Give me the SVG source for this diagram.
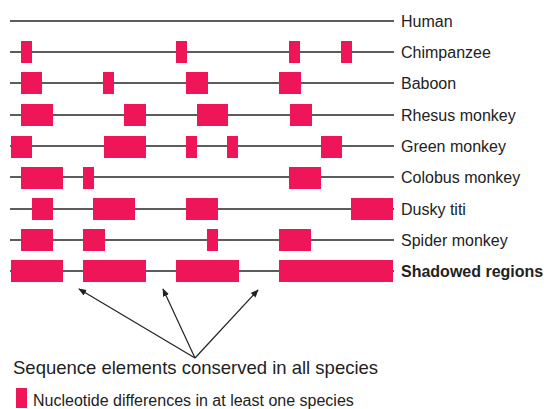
<svg xmlns="http://www.w3.org/2000/svg" width="544" height="409" viewBox="0 0 544 409">
<style>
.ln{stroke:#262626;stroke-width:1.6;fill:none}
.bx{fill:#EF1559}
.lb{font-family:"Liberation Sans",Arial,sans-serif;font-size:16px;fill:#222}
.b{font-weight:bold}
.ar{stroke:#222;stroke-width:1.2;fill:none;marker-end:url(#ah)}
</style>
<defs>
<marker id="ah" viewBox="0 0 10 10" refX="9" refY="5" markerWidth="8" markerHeight="8" markerUnits="userSpaceOnUse" orient="auto">
<path d="M0,1 L10,5 L0,9 Z" fill="#222"/>
</marker>
</defs>
<rect width="544" height="409" fill="#fff"/>
<g id="human">
<line class="ln" x1="10" y1="21" x2="394" y2="21"/>
<text class="lb" x="401" y="27">Human</text>
</g>
<g id="chimpanzee">
<line class="ln" x1="10" y1="52" x2="394" y2="52"/>
<rect class="bx" x="21" y="41" width="11" height="22"/>
<rect class="bx" x="176" y="41" width="11" height="22"/>
<rect class="bx" x="289" y="41" width="11" height="22"/>
<rect class="bx" x="341" y="41" width="11" height="22"/>
<text class="lb" x="401" y="58">Chimpanzee</text>
</g>
<g id="baboon">
<line class="ln" x1="10" y1="83" x2="394" y2="83"/>
<rect class="bx" x="21" y="72" width="21" height="22"/>
<rect class="bx" x="103" y="72" width="11" height="22"/>
<rect class="bx" x="186" y="72" width="22" height="22"/>
<rect class="bx" x="279" y="72" width="22" height="22"/>
<text class="lb" x="401" y="89">Baboon</text>
</g>
<g id="rhesus">
<line class="ln" x1="10" y1="115" x2="394" y2="115"/>
<rect class="bx" x="21" y="104" width="32" height="22"/>
<rect class="bx" x="124" y="104" width="22" height="22"/>
<rect class="bx" x="197" y="104" width="31" height="22"/>
<rect class="bx" x="290" y="104" width="22" height="22"/>
<text class="lb" x="401" y="121">Rhesus monkey</text>
</g>
<g id="green">
<line class="ln" x1="10" y1="146" x2="394" y2="146"/>
<rect class="bx" x="11" y="136" width="21" height="22"/>
<rect class="bx" x="104" y="136" width="42" height="22"/>
<rect class="bx" x="186" y="136" width="11" height="22"/>
<rect class="bx" x="227" y="136" width="11" height="22"/>
<rect class="bx" x="321" y="136" width="21" height="22"/>
<text class="lb" x="401" y="152">Green monkey</text>
</g>
<g id="colobus">
<line class="ln" x1="10" y1="177" x2="394" y2="177"/>
<rect class="bx" x="21" y="167" width="42" height="22"/>
<rect class="bx" x="83" y="167" width="11" height="22"/>
<rect class="bx" x="289" y="167" width="32" height="22"/>
<text class="lb" x="401" y="183">Colobus monkey</text>
</g>
<g id="dusky">
<line class="ln" x1="10" y1="209" x2="394" y2="209"/>
<rect class="bx" x="32" y="198" width="21" height="22"/>
<rect class="bx" x="93" y="198" width="42" height="22"/>
<rect class="bx" x="186" y="198" width="32" height="22"/>
<rect class="bx" x="351" y="198" width="42" height="22"/>
<text class="lb" x="401" y="215">Dusky titi</text>
</g>
<g id="spider">
<line class="ln" x1="10" y1="240" x2="394" y2="240"/>
<rect class="bx" x="21" y="229" width="32" height="22"/>
<rect class="bx" x="83" y="229" width="22" height="22"/>
<rect class="bx" x="207" y="229" width="11" height="22"/>
<rect class="bx" x="279" y="229" width="32" height="22"/>
<text class="lb" x="401" y="246">Spider monkey</text>
</g>
<g id="shadowed">
<line class="ln" x1="10" y1="271" x2="394" y2="271"/>
<rect class="bx" x="11" y="260" width="52" height="22"/>
<rect class="bx" x="83" y="260" width="63" height="22"/>
<rect class="bx" x="176" y="260" width="63" height="22"/>
<rect class="bx" x="279" y="260" width="114" height="22"/>
<text class="lb b" x="401" y="277">Shadowed regions</text>
</g>
<g id="connectors">
<line class="ar" x1="195" y1="358" x2="79" y2="289"/>
<line class="ar" x1="195" y1="358" x2="163" y2="289"/>
<line class="ar" x1="195" y1="358" x2="258" y2="290"/>
</g>
<g id="caption">
<text class="lb" x="13" y="374" style="font-size:18.5px">Sequence elements conserved in all species</text>
</g>
<g id="legend">
<rect class="bx" x="16" y="388" width="11" height="20"/>
<text class="lb" x="33" y="405.5">Nucleotide differences in at least one species</text>
</g>
</svg>
